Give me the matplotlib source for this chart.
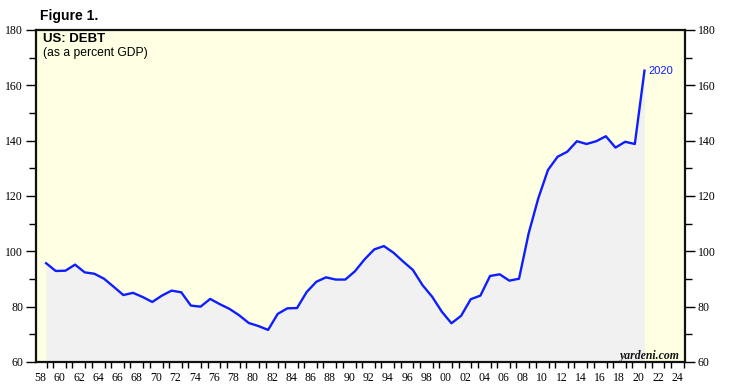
import numpy as np
import matplotlib
matplotlib.use("Agg")
import matplotlib.pyplot as plt
from matplotlib.ticker import MultipleLocator, FixedLocator

years = list(range(1958, 2021))
debt = [95.7, 92.9, 93.0, 95.2, 92.4, 91.9, 90.1, 87.2, 84.2, 85.0,
        83.5, 81.7, 84.0, 85.8, 85.2, 80.4, 80.0, 82.8, 80.9, 79.2,
        76.9, 74.1, 73.0, 71.6, 77.4, 79.4, 79.5, 85.3, 89.0, 90.6,
        89.8, 89.8, 92.8, 97.1, 100.7, 101.9, 99.5, 96.3, 93.3, 87.8,
        83.6, 78.2, 74.0, 76.7, 82.7, 84.0, 91.1, 91.7, 89.4, 90.1,
        106.5, 119.2, 129.4, 134.2, 136.0, 139.8, 138.8, 139.8, 141.6, 137.5,
        139.6, 138.8, 165.3]
tick_years = list(range(1958, 2025, 2))
tick_labels = [f"{y % 100:02d}" for y in tick_years]
y_ticks = [60, 80, 100, 120, 140, 160, 180]

x = np.array(years) + 0.6
y = np.array(debt)

W, H = 729, 391
fig = plt.figure(figsize=(W / 100, H / 100), dpi=100)
ax = fig.add_axes([35.5 / W, 1 - 362 / H, (685 - 35.5) / W, (362 - 30) / H])
ax.set_facecolor("#FFFFE3")

ax.fill_between(x, y, 60, color="#F1F1F1", linewidth=0, zorder=1)
ax.plot(x, y, color="#0F1EFF", lw=1.7, zorder=3, solid_joinstyle="round")

ax.set_xlim(1957.5, 2024.8)
ax.set_ylim(60, 180)

serif = "Liberation Serif"
ax.xaxis.set_major_locator(FixedLocator(tick_years))
ax.set_xticklabels(tick_labels, fontfamily=serif, fontsize=8.5)
ax.xaxis.set_minor_locator(FixedLocator(list(np.arange(1958, 2025, 2 / 3))))
ax.tick_params(axis="x", which="major", length=0, pad=7.5)
ax.tick_params(axis="x", which="minor", length=4, width=1.0, direction="out")

ax.yaxis.set_major_locator(FixedLocator(y_ticks))
ax.yaxis.set_minor_locator(MultipleLocator(10))
ax.set_yticklabels([str(v) for v in y_ticks], fontfamily=serif, fontsize=8.5)
ax.tick_params(axis="y", which="both", left=True, right=True,
               labelleft=True, labelright=True, direction="out")
ax.tick_params(axis="y", which="major", length=7, width=1.0, pad=2)
ax.tick_params(axis="y", which="minor", length=5, width=1.0)

for s in ax.spines.values():
    s.set_linewidth(1.6)
    s.set_color("#111111")

fig.text(40 / W, 1 - 16 / H, "Figure 1.", fontfamily="Liberation Sans",
         fontweight="bold", fontsize=10, va="center", ha="left")
ax.text(43 / W, 1 - 39 / H, "US: DEBT", transform=fig.transFigure,
        fontfamily="Liberation Sans", fontweight="bold", fontsize=9.5,
        va="center", ha="left")
ax.text(43 / W, 1 - 53 / H, "(as a percent GDP)", transform=fig.transFigure,
        fontfamily="Liberation Sans", fontsize=8.7, va="center", ha="left")
ax.annotate("2020", xy=(x[-1], y[-1]), xytext=(2.5, 0), textcoords="offset points",
            color="#0F1EFF", fontfamily="Liberation Sans", fontsize=8,
            va="center", ha="left")
ax.text(679 / W, 1 - 356 / H, "yardeni.com", transform=fig.transFigure,
        fontfamily=serif, fontstyle="italic", fontweight="bold", fontsize=8.5,
        va="center", ha="right", color="#111111")

fig.savefig("out.png", dpi=100, facecolor="white")
